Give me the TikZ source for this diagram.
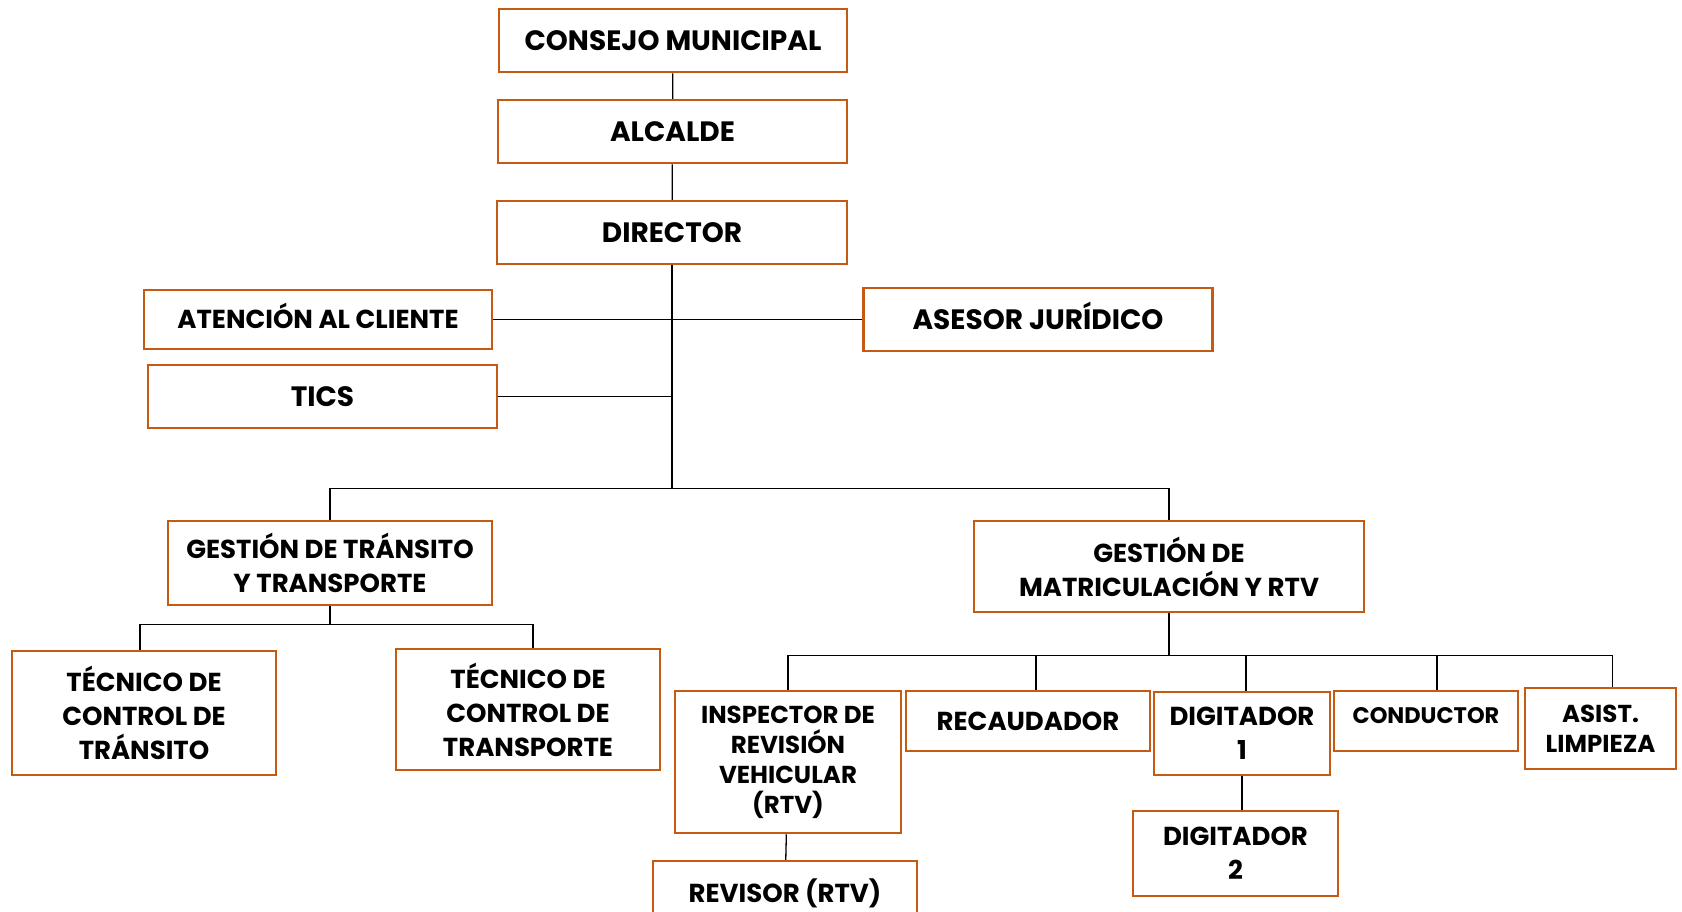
\documentclass[tikz,border=0pt]{standalone}
\usepackage{fontspec}
\setmainfont{Poppins}

\definecolor{boxorange}{RGB}{197, 90, 17}

\tikzset{
    box/.style={draw=boxorange, line width=2.5, fill=white, align=center, inner sep=0},
    fontBig/.style={font=\fontsize{28}{34}\selectfont\bfseries, text height=19.6, text depth=0},
    fontMid/.style={font=\fontsize{26}{34}\selectfont\bfseries},
    fontSmall/.style={font=\fontsize{24.5}{30}\selectfont\bfseries},
    fontTiny/.style={font=\fontsize{22.5}{28}\selectfont\bfseries},
    capsMid/.style={text height=18.2, text depth=0},
    conn/.style={line width=1.3, color=black},
}

\begin{document}
\begin{tikzpicture}[x=1pt, y=-1pt]
        \useasboundingbox (0, 0) rectangle (1682, 911);

        % Top levels:
        \node[box, fontBig, minimum width=348, minimum height=63] (consejo) at (673, 40.5) {CONSEJO MUNICIPAL};
        \node[box, fontBig, minimum width=349, minimum height=63] (alcalde) at (672.5, 131.5) {ALCALDE};
        \node[box, fontBig, minimum width=350, minimum height=63] (director) at (672, 232.5) {DIRECTOR};

        % Staff:
        \node[box, fontMid, capsMid, minimum width=348, minimum height=59] (atencion) at (318, 319.5) {ATENCIÓN AL CLIENTE};
        \node[box, fontBig, minimum width=349, minimum height=63] (tics) at (322.5, 396.5) {TICS};
        \node[box, fontBig, minimum width=349, minimum height=63] (asesor) at (1038, 319.5) {ASESOR JURÍDICO};

        % Departments:
        \node[box, fontMid, minimum width=324, minimum height=84] (transito) at (330, 563) {GESTIÓN DE TRÁNSITO\\Y TRANSPORTE};
        \node[box, fontMid, minimum width=390, minimum height=91] (matricula) at (1169, 566.5) {GESTIÓN DE\\MATRICULACIÓN Y RTV};

        % Units:
        \node[box, fontMid, minimum width=264, minimum height=124] (tecTransito) at (144, 713) {TÉCNICO DE\\CONTROL DE\\TRÁNSITO};
        \node[box, fontMid, minimum width=264, minimum height=121] (tecTransporte) at (528, 709.5) {TÉCNICO DE\\CONTROL DE\\TRANSPORTE};
        \node[box, fontSmall, minimum width=226, minimum height=142] (inspector) at (788, 762) {INSPECTOR DE\\REVISIÓN\\VEHICULAR\\(RTV)};
        \node[box, fontMid, capsMid, minimum width=264, minimum height=64] (revisor) at (785, 893) {REVISOR (RTV)};
        \node[box, fontMid, capsMid, minimum width=244, minimum height=60] (recaudador) at (1028, 721) {RECAUDADOR};
        \node[box, fontMid, minimum width=176, minimum height=83] (digUno) at (1242, 733.5) {DIGITADOR\\1};
        \node[box, fontTiny, text height=15.8, text depth=10, minimum width=184, minimum height=60] (conductor) at (1426, 721) {CONDUCTOR};
        \node[box, fontSmall, minimum width=151, minimum height=81] (asist) at (1600.5, 728.5) {ASIST.\\LIMPIEZA};
        \node[box, fontMid, minimum width=205, minimum height=85] (digDos) at (1235.5, 853.5) {DIGITADOR\\2};

        % Connectors:
        \draw[conn] (consejo) -- (alcalde);
        \draw[conn] (alcalde) -- (director);
        \draw[conn] (atencion) -- (asesor);
        \draw[conn] (tics.east) -- (tics.east -| director.south);
        \draw[conn] (director.south) -- ++(0, 223) -| (transito.north);
        \draw[conn] (director.south) -- ++(0, 223) -| (matricula.north);
        \draw[conn] (transito.south) -- ++(0, 18) -| ([xshift=-4]tecTransito.north);
        \draw[conn] (transito.south) -- ++(0, 18) -| ([xshift=5]tecTransporte.north);
        \foreach \unit/\dx in {inspector/0, recaudador/8, digUno/4, conductor/11, asist/12}
            \draw[conn] (matricula.south) -- ++(0, 42) -| ([xshift=\dx]\unit.north);
        \draw[conn] (inspector) -- (revisor);
        \draw[conn] (digUno.south) -- (digUno.south |- digDos.north);
    \end{tikzpicture}
\end{document}
